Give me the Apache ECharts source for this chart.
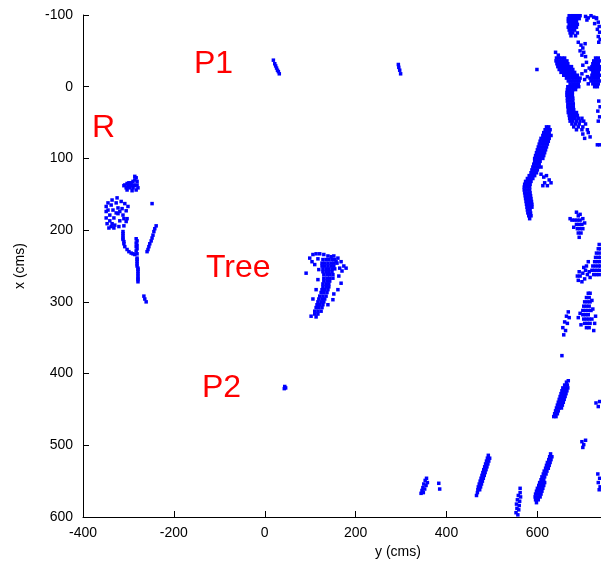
<!DOCTYPE html>
<html><head><meta charset="utf-8">
<script src="https://cdn.jsdelivr.net/npm/echarts@6/dist/echarts.min.js"></script>
<style>html,body{margin:0;padding:0;background:#fff}#c{width:601px;height:571px}</style>
</head><body><div id="c"></div>
<script>
// Axis ranges / ticks (horizontal = "y (cms)", vertical = "x (cms)")
const xTicks = [-400, -200, 0, 200, 400, 600];
const xMax = 740;
const yTicks = [-100, 0, 100, 200, 300, 400, 500, 600];

// Points: [y (cms), x (cms)]
const pointsR = [
[-308,137],[-303,135],[-299,134],[-294,134],[-290,132],[-286,130],[-286,125],[-283,127],[-281,132],[-281,137],[-279,141],[-283,144],[-290,141],[-297,141],[-301,139],[-305,141],[-294,138],[-288,137],[-303,144],[-292,145],[-286,138],[-299,137],[-310,138],
[-349,167],[-349,174],[-349,183],[-347,191],[-343,197],[-341,179],[-341,187],[-338,165],[-336,158],[-334,172],[-332,183],[-330,193],[-327,162],[-325,155],[-323,169],[-323,177],[-319,187],[-316,160],[-314,170],[-312,179],[-310,194],[-308,163],[-305,173],[-303,184],[-301,167],[-332,197],[-321,195],[-345,172],[-336,191],[-327,176],[-345,162],[-319,174],[-310,184],[-338,195],[-305,188],
[-312,202],[-312,205],[-312,208],[-312,211],[-312,213],[-310,216],[-310,219],[-308,223],[-303,227],[-299,230],[-294,232],[-290,233],[-286,234],[-283,212],[-281,215],[-283,218],[-281,221],[-283,223],[-281,226],[-283,229],[-281,233],[-281,239],[-281,241],[-281,244],[-281,247],[-281,250],[-279,253],[-279,255],[-279,258],[-279,261],[-279,264],[-279,267],[-279,269],[-279,272],
[-239,194],[-242,198],[-244,202],[-246,207],[-248,211],[-250,215],[-253,219],[-255,223],[-257,227],[-259,230],
[-248,163],
[-266,292],[-264,296],[-261,300]
];
const pointsP1 = [[19,-37],[22,-32],[24,-29],[26,-26],[28,-23],[30,-21],[32,-18],[294,-31],[295,-27],[297,-23],[299,-18]];
const pointsP2 = [[44,418],[46,420],[43,421]];
const pointsTree = [
[99,239],[106,234],[113,233],[121,233],[130,234],[139,236],[146,237],[152,236],[161,239],[168,244],[174,250],[179,253],[91,260],[104,244],[110,248],[117,240],[157,244],[170,257],
[128,241],[135,241],[141,241],[148,241],[154,241],
[126,246],[132,246],[139,246],[146,246],[152,246],[159,246],
[126,250],[132,250],[139,250],[146,250],[152,250],
[128,254],[135,254],[141,254],[148,254],[154,254],
[128,258],[135,258],[141,258],[148,258],
[130,262],[137,262],[143,262],[150,262],
[130,267],[137,267],[143,267],[150,267],
[130,271],[137,271],[143,271],
[128,275],[135,275],[141,275],
[128,279],[135,279],[141,279],
[126,283],[132,283],[139,283],
[124,287],[130,287],[137,287],
[121,292],[128,292],[135,292],
[119,296],[126,296],[132,296],
[117,300],[124,300],[130,300],
[115,304],[121,304],[128,304],
[113,308],[119,308],[126,308],
[110,313],[117,313],[124,313],
[110,317],[117,317],
[113,321],
[163,264],[168,274],[161,283],[150,297],[152,289],[106,296],[113,283],[117,269],[119,255],[165,253],[102,320],[139,304]
];
const pointsRightTop = [
[670,-99],[676,-99],[682,-99],[688,-99],[694,-99],
[668,-95],[674,-95],[680,-95],[686,-95],[692,-95],
[668,-91],[674,-91],[680,-91],[686,-91],
[670,-87],[676,-87],[682,-87],[688,-87],
[668,-83],[674,-83],[680,-83],[686,-83],
[670,-79],[676,-79],[682,-79],
[672,-75],[678,-75],[688,-75],
[674,-71],[684,-71],
[706,-98],[712,-96],[718,-99],[724,-97],[730,-95],[709,-93],
[730,-96],[734,-90],[736,-84],[732,-80],[737,-76],[734,-70],[738,-66],[735,-62],[726,-88],
[690,-62],[696,-58],[700,-54],[694,-50],[702,-48],[698,-44],[706,-42],[705,-60],
[640,-48],[646,-44],
[642,-40],[648,-40],[654,-40],[660,-40],
[641,-36],[647,-36],[653,-36],[659,-36],[665,-36],
[643,-32],[649,-32],[655,-32],[661,-32],[667,-32],
[645,-28],[651,-28],[657,-28],[663,-28],[669,-28],[675,-28],
[648,-24],[654,-24],[660,-24],[666,-24],[672,-24],[678,-24],
[652,-20],[658,-20],[664,-20],[670,-20],[676,-20],[682,-20],
[658,-16],[664,-16],[670,-16],[676,-16],[682,-16],[688,-16],
[664,-12],[670,-12],[676,-12],[682,-12],[688,-12],[694,-12],
[668,-8],[674,-8],[680,-8],[686,-8],[692,-8],
[672,-4],[678,-4],[684,-4],[690,-4],
[667,0],[673,0],[679,0],[685,0],[691,0],
[666,4],[672,4],[678,4],[684,4],
[665,8],[671,8],[677,8],
[665,12],[671,12],[677,12],
[666,16],[672,16],[678,16],
[666,20],[672,20],[678,20],
[667,24],[673,24],[679,24],
[667,28],[673,28],[679,28],
[668,32],[674,32],[680,32],
[668,36],[674,36],[680,36],[686,36],
[670,40],[676,40],[682,40],[688,40],
[671,44],[677,44],[683,44],[690,44],[698,44],
[672,48],[678,48],[686,48],[694,48],[702,48],
[676,52],[684,52],[692,52],[706,52],
[680,56],[690,56],[700,56],
[686,60],[698,60],[710,60],
[728,-40],[734,-40],
[724,-36],[730,-36],[736,-36],
[722,-32],[728,-32],[734,-32],
[720,-28],[726,-28],[732,-28],[738,-28],
[718,-24],[724,-24],[730,-24],[736,-24],
[722,-20],[728,-20],[734,-20],
[720,-16],[726,-16],[732,-16],[738,-16],
[716,-12],[722,-12],[728,-12],[734,-12],
[718,-8],[724,-8],[730,-8],[736,-8],
[722,-4],[728,-4],[734,-4],
[726,0],[732,0],
[700,-30],[706,-22],[710,-14],[704,-10],[712,-4],[698,-18],[708,-34],[714,-26],
[700,66],[712,64],[704,72],[716,70],
[735,20],[738,28],[733,34],[737,42],[734,48],
[599,-24],
[732,81],[737,81]
];
const pointsRightMid = [
[620,56],[625,56],
[617,60],[623,60],[628,60],
[614,64],[620,64],[626,64],
[612,68],[618,68],[624,68],[630,68],
[608,72],[614,72],[620,72],[626,72],
[606,76],[612,76],[618,76],[624,76],
[604,80],[610,80],[616,80],[622,80],
[602,84],[608,84],[614,84],[620,84],
[600,88],[606,88],[612,88],[618,88],
[598,92],[604,92],[610,92],[616,92],
[596,96],[602,96],[608,96],[614,96],
[594,100],[600,100],[606,100],[612,100],
[594,104],[600,104],[606,104],
[592,108],[598,108],[604,108],
[590,112],[596,112],[602,112],[608,112],
[588,116],[594,116],[600,116],
[586,120],[592,120],[598,120],
[582,124],[588,124],[594,124],
[578,128],[584,128],[590,128],
[574,132],[580,132],[586,132],
[572,136],[578,136],[584,136],
[571,140],[577,140],[583,140],
[571,144],[577,144],[583,144],
[572,148],[578,148],[584,148],
[573,152],[579,152],[585,152],
[574,156],[580,156],[586,156],
[575,160],[581,160],[587,160],
[576,164],[582,164],[588,164],
[577,168],[583,168],[588,168],
[578,172],[584,172],
[579,176],[585,176],
[581,180],[586,180],
[583,184],
[608,122],[614,126],[620,124],[626,130],[630,134],[616,134],[622,138],[612,138],
[686,175],[690,180],[694,178],[682,186],[688,186],[694,186],[700,184],[686,192],[692,192],[698,192],[688,198],[694,198],[700,198],[690,204],[696,204],[692,210],[676,186],[672,184],[704,190],[680,196],
[736,220],[734,226],[739,226],[730,232],[736,232],[728,238],[734,238],[739,238],[726,244],[732,244],[738,244],[722,250],[728,250],[734,250],[739,250],[720,256],[726,256],[732,256],[738,256],[724,262],[730,262],[736,262],
[690,270],[694,264],[700,260],[706,256],[710,262],[704,268],[714,258],[716,266],[698,272],[692,258],[708,250],[712,244],[688,264],[702,252],
[712,288],[716,288],[708,294],[714,294],[704,300],[710,300],[716,300],[702,306],[708,306],[714,306],[700,312],[706,312],[712,312],[718,312],[700,318],[706,318],[712,318],[702,324],[708,324],[714,324],[720,324],[704,330],[710,330],[716,330],[708,336],[714,336],
[694,316],[690,322],[722,310],[726,330],[720,298],[696,332],[724,340],[728,320],
[668,314],[664,320],[670,322],[660,328],[666,330],[656,336],[662,340],[658,346],
[654,375]
];
const pointsRightBottom = [
[664,412],[668,410],
[660,416],[666,416],[656,420],[662,420],[667,420],[654,424],[660,424],[665,424],[652,428],[658,428],[663,428],[650,432],[656,432],[661,432],[648,436],[654,436],[659,436],[646,440],[652,440],[657,440],[644,444],[650,444],[655,444],[642,448],[648,448],[653,448],[640,452],[646,452],[638,456],[644,456],[636,460],[641,460],
[729,441],[734,446],[737,439],
[698,495],[702,499],[700,503],[706,493],
[733,540],[737,546],[734,552],[738,558],[736,562],
[356,546],[353,549],[358,552],[350,554],[355,556],[348,559],[352,561],[346,563],[349,566],[344,567],[383,553],[385,561],
[492,514],[490,518],[495,518],[488,522],[493,522],[486,526],[491,526],[484,530],[489,530],[482,534],[487,534],[480,538],[485,538],[478,542],[483,542],[476,546],[481,546],[474,550],[479,550],[472,554],[477,554],[470,558],[475,558],[469,562],[473,562],[468,566],[466,570],
[629,512],[627,516],[632,516],[625,520],[630,520],[622,524],[628,524],[620,528],[626,528],[618,532],[624,532],[615,536],[621,536],[613,540],[619,540],[610,544],[616,544],[608,548],[614,548],[605,552],[611,552],[616,552],[603,556],[609,556],[614,556],[600,560],[606,560],[612,560],[598,564],[604,564],[610,564],[596,568],[602,568],[608,568],[595,572],[601,572],[606,572],[596,576],[602,576],[598,580],
[562,560],[562,566],[558,570],[563,572],[556,576],[561,578],[554,582],[560,584],[555,588],[559,590],[553,594],[557,597]
];
const annotations = ['P1', 'R', 'Tree', 'P2'];

const FONT = '"Liberation Sans", Arial, Helvetica, sans-serif';
const chart = echarts.init(document.getElementById('c'), null, {renderer: 'canvas'});
const groups = [pointsR, pointsP1, pointsP2, pointsTree, pointsRightTop, pointsRightMid, pointsRightBottom];
const labelPos = {P1: [194, 64], R: [92, 128], Tree: [206, 268], P2: [202, 388]};

chart.setOption({
  animation: false,
  backgroundColor: '#fff',
  grid: {left: 83, top: 15, right: 0, bottom: 54},
  xAxis: {
    type: 'value', min: xTicks[0], max: xMax, interval: 200,
    name: 'y (cms)', nameLocation: 'middle', nameGap: 28,
    nameTextStyle: {color: '#000', fontSize: 14, fontFamily: FONT, padding: [0, 0, 0, 112]},
    axisLine: {show: true, onZero: false, lineStyle: {color: '#000', width: 1}},
    axisTick: {show: true, inside: true, length: 6, lineStyle: {color: '#000'}, customValues: xTicks},
    axisLabel: {color: '#000', fontSize: 14, fontFamily: FONT, margin: 9, customValues: xTicks},
    splitLine: {show: false}
  },
  yAxis: {
    type: 'value', min: yTicks[0], max: yTicks[yTicks.length - 1], interval: 100, inverse: true,
    name: 'x (cms)', nameLocation: 'middle', nameGap: 56, nameRotate: 90,
    nameTextStyle: {color: '#000', fontSize: 14, fontFamily: FONT},
    axisLine: {show: true, onZero: false, lineStyle: {color: '#000', width: 1}},
    axisTick: {show: true, inside: true, length: 6, lineStyle: {color: '#000'}},
    axisLabel: {color: '#000', fontSize: 14, fontFamily: FONT, margin: 10},
    splitLine: {show: false}
  },
  series: groups.map(d => ({
    type: 'scatter', data: d, symbol: 'rect', symbolSize: 3.5, silent: true,
    itemStyle: {color: '#0000ff', opacity: 1}
  })),
  graphic: annotations.map(t => ({
    type: 'text', x: labelPos[t][0], y: labelPos[t][1], silent: true,
    style: {text: t, fill: '#ff0000', fontSize: 32, fontFamily: FONT, align: 'left', verticalAlign: 'middle'}
  }))
});
</script></body></html>
